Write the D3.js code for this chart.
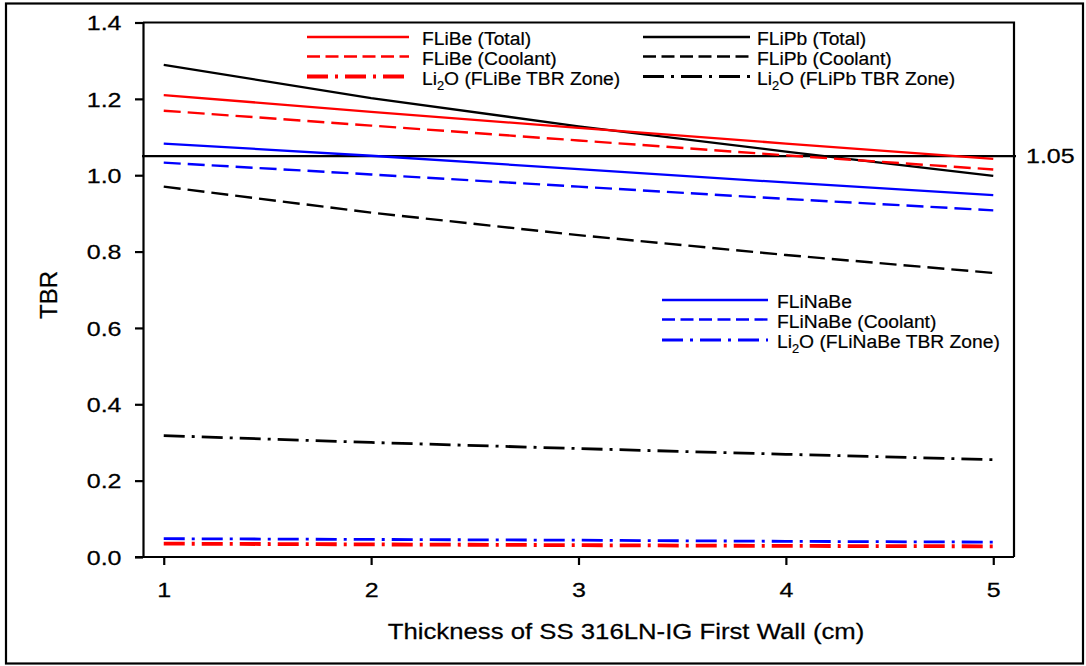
<!DOCTYPE html>
<html>
<head>
<meta charset="utf-8">
<script src="https://cdn.jsdelivr.net/npm/d3@7"></script>
<style>
  html, body { margin: 0; padding: 0; background: #fff; }
  svg { display: block; }
  text { font-family: Arial, "Liberation Sans", sans-serif; fill: #000; }
</style>
</head>
<body>
<svg id="chart" width="1086" height="666"></svg>
<script>
// First-wall thickness (cm)
const thickness = [1, 2, 3, 4, 5];

// Tritium breeding ratio per blanket option
const fliBeTotal     = [1.210, 1.166, 1.124, 1.083, 1.043];
const fliBeCoolant   = [1.169, 1.130, 1.091, 1.052, 1.015];
const fliBeLi2O      = [0.035, 0.033, 0.031, 0.029, 0.028];
const fliPbTotal     = [1.289, 1.202, 1.128, 1.062, 0.998];
const fliPbCoolant   = [0.970, 0.902, 0.843, 0.791, 0.744];
const fliPbLi2O      = [0.318, 0.300, 0.284, 0.269, 0.255];
const fliNaBeTotal   = [1.083, 1.051, 1.016, 0.981, 0.948];
const fliNaBeCoolant = [1.033, 1.002, 0.970, 0.938, 0.908];
const fliNaBeLi2O    = [0.048, 0.046, 0.044, 0.041, 0.039];

// Required TBR threshold
const tbrThreshold = 1.05;
const tbrThresholdLabel = "1.05";

// Axis ticks and titles
const xTicks = [1, 2, 3, 4, 5];
const yTicks = [0.0, 0.2, 0.4, 0.6, 0.8, 1.0, 1.2, 1.4];
const xTitle = "Thickness of SS 316LN-IG First Wall (cm)";
const yTitle = "TBR";

// Series: values, colour, dash style and legend group
const series = [
  { name: "FLiPb (Total)",            values: fliPbTotal,     color: "#000000", style: "solid",   legend: 1 },
  { name: "FLiPb (Coolant)",          values: fliPbCoolant,   color: "#000000", style: "dash",    legend: 1 },
  { name: "Li2O (FLiPb TBR Zone)",    values: fliPbLi2O,      color: "#000000", style: "dashdot", legend: 1 },
  { name: "FLiBe (Total)",            values: fliBeTotal,     color: "#ff0000", style: "solid",   legend: 0 },
  { name: "FLiBe (Coolant)",          values: fliBeCoolant,   color: "#ff0000", style: "dash",    legend: 0 },
  { name: "Li2O (FLiBe TBR Zone)",    values: fliBeLi2O,      color: "#ff0000", style: "dashdot", legend: 0, heavy: true },
  { name: "FLiNaBe",                  values: fliNaBeTotal,   color: "#0000ff", style: "solid",   legend: 2 },
  { name: "FLiNaBe (Coolant)",        values: fliNaBeCoolant, color: "#0000ff", style: "dash",    legend: 2 },
  { name: "Li2O (FLiNaBe TBR Zone)",  values: fliNaBeLi2O,    color: "#0000ff", style: "dashdot", legend: 2 }
];

const dashes = { solid: null, dash: "17,7", dashdot: "21,7,3,7" };
const legendDashes = { solid: null, dash: "13,5.5", dashdot: "21,7,3,7" };
const widths = { solid: 2.3, dash: 2.4, dashdot: 2.8 };

const svg = d3.select("#chart");

// Outer frame around the whole figure
svg.append("rect")
  .attr("x", 6).attr("y", 3.5).attr("width", 1077).attr("height", 660)
  .attr("fill", "none").attr("stroke", "#000").attr("stroke-width", 2.2);

const plot = { left: 143, right: 1014, top: 22.5, bottom: 557 };

const x = d3.scaleLinear().domain([0.9, 5.1]).range([plot.left, plot.right]);
const y = d3.scaleLinear().domain([0, 1.4]).range([plot.bottom, plot.top]);

// Text helper: horizontally widened glyphs
function label(parent, px, py, str, size, sx, anchor) {
  const g = parent.append("g").attr("transform", `translate(${px},${py}) scale(${sx},1)`);
  return g.append("text")
    .attr("font-size", size)
    .attr("text-anchor", anchor || "start")
    .attr("stroke", "#000").attr("stroke-width", 0.25)
    .text(str);
}

// Plot frame: top and right edges
svg.append("path")
  .attr("d", `M${plot.left},${plot.top}H${plot.right}V${plot.bottom}`)
  .attr("fill", "none").attr("stroke", "#000").attr("stroke-width", 2.2);

// Y axis
const yAxis = svg.append("g")
  .attr("transform", `translate(${plot.left},0)`)
  .call(d3.axisLeft(y).tickValues(yTicks).tickSize(8).tickSizeOuter(0).tickFormat(d3.format(".1f")));
yAxis.select(".domain").attr("stroke-width", 2.2);
yAxis.selectAll(".tick line").attr("stroke-width", 2.2);
yAxis.selectAll(".tick text").remove();
yAxis.selectAll(".tick").each(function (d) {
  label(d3.select(this), -21.5, 7.2, d3.format(".1f")(d), 20, 1.25, "end");
});

// X axis
const xAxis = svg.append("g")
  .attr("transform", `translate(0,${plot.bottom})`)
  .call(d3.axisBottom(x).tickValues(xTicks).tickSize(8).tickSizeOuter(0).tickFormat(d3.format("d")));
xAxis.select(".domain").attr("d", `M${plot.left - 8},0H${plot.right}`).attr("stroke-width", 2.2);
xAxis.selectAll(".tick line").attr("stroke-width", 2.2);
xAxis.selectAll(".tick text").remove();
xAxis.selectAll(".tick").each(function (d) {
  label(d3.select(this), 0, 40, d3.format("d")(d), 20, 1.25, "middle");
});

// Axis titles
label(svg, 626, 639, xTitle, 22, 1.17, "middle");
svg.append("text")
  .attr("transform", "translate(57,295) rotate(-90)")
  .attr("font-size", 24)
  .attr("text-anchor", "middle")
  .attr("stroke", "#000").attr("stroke-width", 0.25)
  .text(yTitle);

// Threshold line and its label
svg.append("line")
  .attr("x1", plot.left - 1).attr("x2", plot.right + 2)
  .attr("y1", y(tbrThreshold)).attr("y2", y(tbrThreshold))
  .attr("stroke", "#000").attr("stroke-width", 2.2);
label(svg, 1026, y(tbrThreshold) + 7, tbrThresholdLabel, 20, 1.25, "start");

// Data lines
const line = d3.line()
  .x((d, i) => x(thickness[i]))
  .y(d => y(d));

svg.append("g").selectAll("path")
  .data(series)
  .join("path")
  .attr("d", s => line(s.values))
  .attr("fill", "none")
  .attr("stroke", s => s.color)
  .attr("stroke-width", s => s.heavy ? 3.8 : widths[s.style])
  .attr("stroke-dasharray", s => dashes[s.style]);

// Legends
const legendBoxes = [
  { x1: 307, x2: 409, tx: 422, rows: [37, 56.5, 76.5] },
  { x1: 643, x2: 750, tx: 757, rows: [37, 56.5, 76.5] },
  { x1: 662, x2: 768, tx: 777, rows: [300, 319.5, 340] }
];

function legendText(parent, px, py, name) {
  const g = parent.append("g").attr("transform", `translate(${px},${py}) scale(1.07,1)`);
  const t = g.append("text").attr("font-size", 18)
    .attr("stroke", "#000").attr("stroke-width", 0.2);
  if (name.startsWith("Li2O")) {
    t.append("tspan").text("Li");
    t.append("tspan").attr("font-size", 12).attr("dy", 5).text("2");
    t.append("tspan").attr("dy", -5).text(name.slice(3));
  } else {
    t.text(name);
  }
}

const legendG = svg.append("g");
[0, 1, 2].forEach(li => {
  const box = legendBoxes[li];
  series.filter(s => s.legend === li).forEach((s, r) => {
    const ly = box.rows[r];
    legendG.append("line")
      .attr("x1", box.x1).attr("x2", box.x2)
      .attr("y1", ly).attr("y2", ly)
      .attr("stroke", s.color)
      .attr("stroke-width", s.heavy ? 4 : widths[s.style])
      .attr("stroke-dasharray", legendDashes[s.style]);
    legendText(legendG, box.tx, ly + 8, s.name);
  });
});
</script>
</body>
</html>
